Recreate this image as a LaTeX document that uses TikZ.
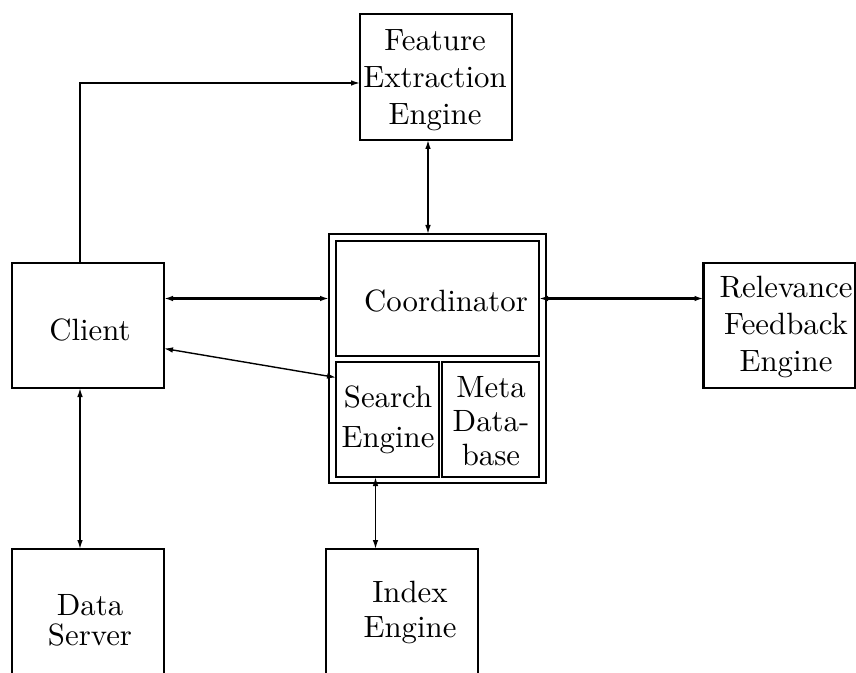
\documentclass[tikz,border=0pt]{standalone}
\usepackage{fontspec}
\setmainfont{lmroman10-regular}[Extension=.otf]
\usetikzlibrary{arrows.meta}
\begin{document}
\begin{tikzpicture}[x=0.5pt,y=-0.5pt,
  box/.style={draw,line width=1.1pt,inner sep=0pt,outer sep=0pt},
  txt/.style={align=center,inner sep=0pt,font=\fontsize{15.4}{18.5}\selectfont},
  link/.style={line width=0.7pt,{Latex[length=4.5pt,width=2.8pt]}-{Latex[length=4.5pt,width=2.8pt]}},
  boldlink/.style={link,line width=1.2pt},
  oneway/.style={line width=0.7pt,-{Latex[length=4.5pt,width=2.8pt]}}]
\clip (0,0) rectangle (856,673);
% components
\node[box,minimum width=76pt,minimum height=63pt] (feat) at (436,77) {};
\node[box,minimum width=76pt,minimum height=62.5pt] (client) at (88,325.5) {};
\node[box,minimum width=76pt,minimum height=62.5pt] (relev) at (779.5,325.5) {};
\node[box,minimum width=76pt,minimum height=90pt] (data) at (88,639) {};
\node[box,minimum width=76pt,minimum height=90pt] (index) at (402,639) {};
% server block
\node[box,line width=0.8pt,minimum width=108.5pt,minimum height=124.5pt] (outer) at (437.5,358.5) {};
\node[box,minimum width=101.5pt,minimum height=57.5pt] (coord) at (437.5,298.5) {};
\node[box,minimum width=51.5pt,minimum height=57.5pt] (search) at (387.5,419.5) {};
\node[box,minimum width=48.5pt,minimum height=57.5pt] (meta) at (490.5,419.5) {};
% labels
\node[txt] (tfeat) at (435,80) {Feature\\Extraction\\Engine};
\node[txt] (tclient) at (90,330) {Client};
\node[txt] (tcoord) at (446,301) {Coordinator};
\node[txt] (trelev) at (786,327) {Relevance\\Feedback\\Engine};
\node[txt,font=\fontsize{15.4}{20}\selectfont] (tsearch) at (388,420) {Search\\Engine};
\node[txt,font=\fontsize{15.4}{17}\selectfont] (tmeta) at (491,421) {Meta\\Data-\\base};
\node[txt,font=\fontsize{15.4}{15}\selectfont] (tdata) at (90,620) {Data\\Server};
\node[txt,font=\fontsize{15.4}{17.5}\selectfont] (tindex) at (410,612) {Index\\Engine};
% connections
\draw[oneway] ([xshift=-4pt]client.north) |- ([yshift=-3pt]feat.west);
\draw[link] ([xshift=-4pt]feat.south) -- ([xshift=-4pt]feat.south |- outer.north);
\draw[boldlink] (client.east |- coord.west) -- (outer.west |- coord.west);
\draw[boldlink] (coord.east) -- (relev.west |- coord.east);
\draw[link] ([yshift=-11.5pt]client.east) -- ([yshift=21pt]search.west);
\draw[link] ([xshift=-4pt]client.south) -- ([xshift=-4pt]client.south |- data.north);
\draw[link] ([xshift=-6pt]search.south) -- ([xshift=-6pt]search.south |- index.north);
\end{tikzpicture}
\end{document}
